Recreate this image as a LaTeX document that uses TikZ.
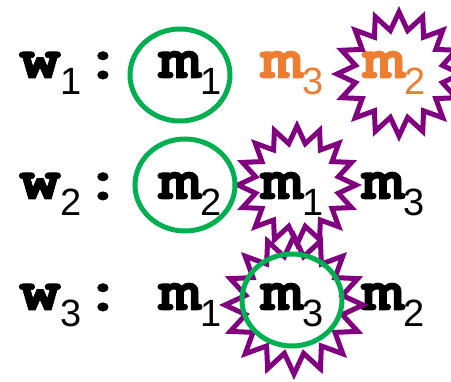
\documentclass[tikz,border=0pt]{standalone}
\usepackage{fontspec}
\usetikzlibrary{shapes.geometric}
\newfontfamily\monob{TeX Gyre Cursor}[FakeStretch=1.15, FakeBold=1.2]
\newfontfamily\subsans{Liberation Sans}
\newcommand{\sub}[1]{\raisebox{-17pt}{\subsans\mdseries\fontsize{38}{38}\selectfont #1}}
\definecolor{matchc}{HTML}{00B050}
\definecolor{rejc}{HTML}{800080}
\definecolor{prefc}{HTML}{ED7D31}
\tikzset{
  lbl/.style={anchor=base west, inner sep=0pt, font=\monob\bfseries\fontsize{60}{60}\selectfont},
  match/.style={draw=matchc, line width=5pt, ellipse, minimum width=100pt, minimum height=92pt, inner sep=0pt},
  burst/.style={draw=rejc, line width=5pt, star, star points=16, star point ratio=1.4, inner sep=0pt},
}

\begin{document}
\begin{tikzpicture}[x=1pt, y=1pt]
  \useasboundingbox (0,0) rectangle (451,-382);
  % row labels
  \foreach \i/\y in {1/78,2/199,3/310} {
    \node[lbl] (w\i) at (19,-\y) {w\sub{\i}};
    \node[lbl] (col\i) at (82,-\y) {:};
  }
  % w1
  \node[lbl] (m11) at (159,-78) {m\sub{1}};
  \node[lbl, text=prefc] (m13) at (261,-78) {m\sub{3}};
  \node[lbl, text=prefc] (m12) at (363,-78) {m\sub{2}};
  % w2
  \node[lbl] (m22) at (159,-199) {m\sub{2}};
  \node[lbl] (m21) at (261,-199) {m\sub{1}};
  \node[lbl] (m23) at (362,-199) {m\sub{3}};
  % w3
  \node[lbl] (m31) at (159,-310) {m\sub{1}};
  \node[lbl] (m33) at (261,-310) {m\sub{3}};
  \node[lbl] (m32) at (362,-310) {m\sub{2}};
  % rejections
  \node[burst, minimum size=124pt] (rej1) at (399,-74) {};
  \node[burst, minimum size=118pt] (rej2) at (297,-185) {};
  \node[burst, minimum size=138pt] (rej3) at (294,-305) {};
  % current matches
  \node[match] (cur1) at (180,-75) {};
  \node[match] (cur2) at (185,-185) {};
  \node[match] (cur3) at (292,-300) {};
\end{tikzpicture}
\end{document}
